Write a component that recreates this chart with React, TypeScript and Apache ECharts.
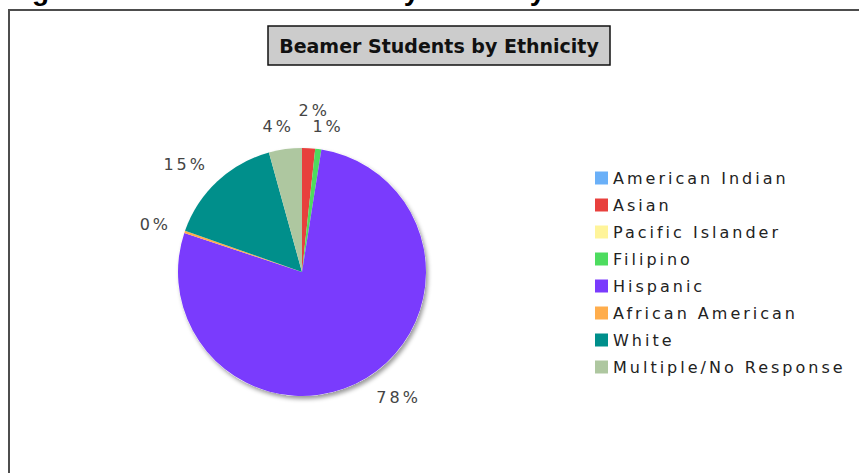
import React, { useEffect, useRef } from "react";
import * as echarts from "echarts";

const categories = [
  "American Indian",
  "Asian",
  "Pacific Islander",
  "Filipino",
  "Hispanic",
  "African American",
  "White",
  "Multiple/No Response",
];
const values = [0, 1.7, 0, 0.8, 77.6, 0.3, 15.3, 4.3];
const colors = [
  "#6ab0f8",
  "#e8403d",
  "#fff49a",
  "#4ddc5f",
  "#7a3bfd",
  "#ffad4c",
  "#008f8b",
  "#aec7a0",
];
const chartTitle = "Beamer Students by Ethnicity";
const figureCaption = "Figure 10: Beamer Students by Ethnicity";

const css = `
#ethchart text { letter-spacing: 3px; }
#ethchart text[fill="#111"], #ethchart text[fill="#000"] { letter-spacing: 0px; }
`;

export default function App() {
  const ref = useRef<HTMLDivElement>(null);
  useEffect(() => {
    const chart = echarts.init(ref.current!, null, { renderer: "svg" });
    const cx = 302;
    const cy = 272;
    const radius = 124;
    const gap = 16;
    const spacing = 3;

    // label placement: anchored just outside the rim at the slice's mid angle,
    // pushed outward when it would collide with an already placed label
    const total = values.reduce((a, b) => a + b, 0);
    const ctx = document.createElement("canvas").getContext("2d")!;
    ctx.font = '16px "DejaVu Sans"';
    const measure = (t: string) => ctx.measureText(t).width + spacing * t.length;
    let cum = 0;
    const items = values
      .map((v, i) => {
        cum += v;
        const mid = ((cum - v / 2) / total) * Math.PI * 2;
        return { i, v, mid, text: Math.round((v / total) * 100) + "%" };
      })
      .filter((d) => d.v > 0)
      .reverse();
    const placed: { x: number; y: number; w: number; h: number }[] = [];
    const labelPos: Record<number, { x: number; y: number }> = {};
    for (const it of items) {
      const ux = Math.sin(it.mid);
      const uy = -Math.cos(it.mid);
      const w = measure(it.text);
      const h = 14;
      const hx = Math.max(-1, Math.min(1, ux * 3));
      let d = radius + gap;
      let x = 0;
      let y = 0;
      for (let k = 0; k < 80; k++) {
        x = cx + ux * d + (hx * w) / 2;
        y = cy + uy * d + (uy * h) / 2;
        const hit = placed.some(
          (p) => Math.abs(p.x - x) < (p.w + w) / 2 && Math.abs(p.y - y) < (p.h + h) / 2 + 2
        );
        if (!hit) break;
        d += 1;
      }
      placed.push({ x, y, w, h });
      labelPos[it.i] = { x: x + spacing / 2, y };
    }

    chart.setOption({
      animation: false,
      backgroundColor: "#fff",
      legend: {
        orient: "vertical",
        left: 595,
        top: 170,
        padding: 0,
        icon: "rect",
        itemWidth: 13,
        itemHeight: 13,
        itemGap: 11,
        selectedMode: false,
        data: categories,
        textStyle: {
          fontFamily: "DejaVu Sans",
          fontSize: 16,
          lineHeight: 16,
          color: "#222",
        },
      },
      graphic: [
        {
          type: "rect",
          shape: { x: 9, y: 10, width: 900, height: 500 },
          style: { fill: "none", stroke: "#4d4d4d", lineWidth: 2 },
          silent: true,
        },
        {
          type: "text",
          x: 7,
          y: -10,
          silent: true,
          style: {
            text: figureCaption,
            font: 'bold 28px "Liberation Sans"',
            fill: "#000",
            align: "left",
            verticalAlign: "middle",
          },
        },
        {
          type: "rect",
          shape: { x: 268, y: 26, width: 342, height: 39 },
          style: { fill: "#cccccc", stroke: "#111", lineWidth: 1.5 },
          silent: true,
        },
        {
          type: "text",
          x: 439,
          y: 46,
          silent: true,
          style: {
            text: chartTitle,
            font: 'bold 19px "DejaVu Sans"',
            fill: "#111",
            align: "center",
            verticalAlign: "middle",
          },
        },
      ],
      series: [
        {
          type: "pie",
          name: "shadow",
          center: [cx, cy],
          radius,
          silent: true,
          z: 1,
          data: [{ value: 1, name: "_shadow" }],
          label: { show: false },
          labelLine: { show: false },
          itemStyle: {
            color: "#fff",
            shadowBlur: 4,
            shadowOffsetX: 2,
            shadowOffsetY: 3,
            shadowColor: "rgba(0,0,0,0.4)",
          },
        },
        {
          type: "pie",
          name: "Ethnicity",
          center: [cx, cy],
          radius,
          startAngle: 90,
          z: 2,
          percentPrecision: 0,
          avoidLabelOverlap: false,
          data: categories.map((name, i) => ({
            name,
            value: values[i],
            itemStyle: { color: colors[i] },
            label: values[i] === 0 ? { show: false } : undefined,
          })),
          label: {
            position: "outside",
            formatter: "{d}%",
            fontFamily: "DejaVu Sans",
            fontSize: 16,
            color: "#444",
          },
          labelLine: { show: false, length: 14, length2: 0 },
          labelLayout: (params: any) => {
            const p = labelPos[params.dataIndex];
            if (!p) return {};
            return { x: p.x, y: p.y, align: "center", verticalAlign: "middle" };
          },
        },
      ],
    });
    return () => chart.dispose();
  }, []);
  return (
    <>
      <style>{css}</style>
      <div
        id="ethchart"
        ref={ref}
        style={{ position: "absolute", left: 0, top: 0, width: 859, height: 473 }}
      />
    </>
  );
}
